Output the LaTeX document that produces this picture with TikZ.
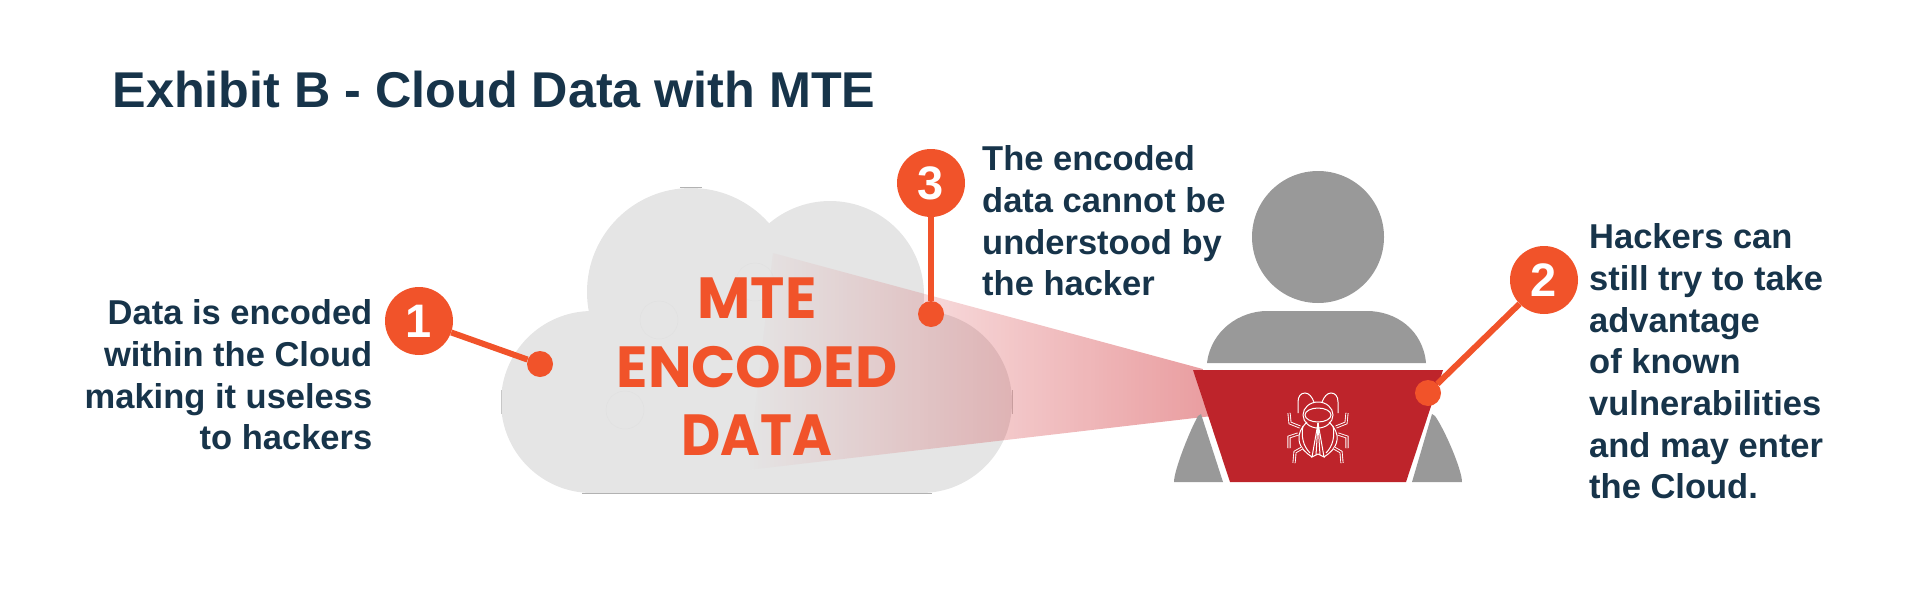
\documentclass[tikz,border=0pt]{standalone}
\usepackage{fontspec}
\setmainfont{Liberation Sans}
\newfontfamily\geofont{Poppins}
\usetikzlibrary{fadings}

\definecolor{inkblue}{HTML}{17344A}
\definecolor{pinorange}{HTML}{F1532A}
\definecolor{cloudgray}{HTML}{E5E5E5}
\definecolor{persongray}{HTML}{999999}
\definecolor{laptopred}{HTML}{BE242B}
\definecolor{beamred}{HTML}{CE2329}

\tikzfading[name=beamfade, left color=transparent!100, middle color=transparent!72, right color=transparent!55]

\tikzset{
    sidetext/.style={inner sep=0pt, text=inkblue, font=\fontsize{34.5}{41.7}\selectfont\bfseries},
    cloudtext/.style={inner sep=0pt, text=pinorange, font=\fontsize{58}{68}\selectfont\geofont\bfseries},
    badge/.style={circle, fill=pinorange, inner sep=0pt, minimum size=68pt, text=white, font=\fontsize{47}{47}\selectfont\bfseries},
    pin/.style={circle, fill=pinorange, inner sep=0pt, minimum size=26pt},
    leader/.style={pinorange, line width=6pt},
    bugline/.style={white, line width=1pt},
    bugleg/.style={white, line width=0.9pt, double=laptopred, double distance=1.3pt}
}

\begin{document}
\begin{tikzpicture}[x=1pt, y=-1pt]
    \useasboundingbox (0,0) rectangle (1920,600);
    % Title
    \node[inner sep=0pt, anchor=base west, text=inkblue, font=\fontsize{50.3}{50}\selectfont\bfseries] (title) at (112.5,107) {Exhibit B - Cloud Data with MTE};

    % Cloud
    \foreach \cx/\cy/\r in {592/402/91, 691/292/104, 830/295/94, 921/402/91}
    {
        \fill[cloudgray] (\cx,\cy) circle (\r pt);
    }
    \fill[cloudgray] (592,311) rectangle (921,493);
    % Faint rings inside the cloud
    \foreach \cx/\cy in {755/282, 659/320, 625/410}
    {
        \draw[black!12, line width=0.4pt] (\cx,\cy) circle (19pt);
    }
    % Edge marks of the cloud
    \draw[black!30, line width=0.8pt] (582,493.3) -- (932,493.3);
    \draw[black!30, line width=0.8pt] (680,187.6) -- (702,187.6);
    \draw[black!22, line width=0.6pt] (500.8,390) -- (500.8,414);
    \draw[black!22, line width=0.6pt] (1012.2,390) -- (1012.2,414);

    % Beam
    \fill[beamred, path fading=beamfade] (773,253) -- (1203,369) -- (1212,416) -- (748,470) -- cycle;

    % Person
    \fill[persongray] (1318,237) circle (66pt);
    \fill[persongray] (1207,363) .. controls (1211,330) and (1240,311) .. (1267,311) -- (1367,311) .. controls (1396,311) and (1423,330) .. (1426,363) -- cycle;
    \fill[persongray] (1198,416) -- (1201,414) -- (1223,482) -- (1174,482) .. controls (1174,470) and (1190,430) .. (1198,416) -- cycle;
    \fill[persongray] (1435,416) -- (1432,414) -- (1412,482) -- (1462,482) .. controls (1462,470) and (1445,430) .. (1435,416) -- cycle;
    % Laptop
    \fill[laptopred] (1193,370) -- (1443,370) -- (1406,482) -- (1230,482) -- cycle;

    % Bug on the laptop
    \begin{scope}[shift={(1318,420)}]
        \foreach \s in {1,-1}
        {
            \begin{scope}[xscale=\s]
                \draw[bugline] (-20,-7) -- (-20,-18) .. controls (-20,-24) and (-17,-27) .. (-13,-27) .. controls (-9,-27) and (-6,-23) .. (-4,-18);
                \draw[bugline] (-11,2) .. controls (-17,8) and (-20,14) .. (-19,20) .. controls (-18,28) and (-12,33) .. (-6,37);
                \draw[bugline] (-15,6) .. controls (-17,16) and (-15,26) .. (-8,33);
                \draw[bugline] (0,3) -- (-6,37) -- (0,34);
                \draw[bugline] (0,3) -- (-2,35);
                \draw[bugleg] (-18,7) -- (-28,3) -- (-29,-7);
                \draw[bugleg] (-20,14) -- (-29,17) -- (-29,28);
                \draw[bugleg] (-16,28) -- (-23,32) -- (-24,43);
            \end{scope}
        }
        \draw[bugline] (0,-5) ellipse (15pt and 13pt);
        \draw[bugline, fill=laptopred] (0,-5) ellipse (13pt and 7pt);
    \end{scope}

    % Cloud text
    \node[cloudtext, anchor=base] (mtetext) at (757,318) {MTE};
    \node[cloudtext, anchor=base] (encodedtext) at (757,387) {ENCODED};
    \node[cloudtext, anchor=base, xscale=0.93] (datatext) at (757,455) {DATA};

    % Callouts
    \node[badge] (badgeone) at (419,321) {1};
    \node[pin] (pinone) at (540,364) {};
    \draw[leader] (badgeone) -- (pinone);
    \node[badge] (badgetwo) at (1544,280) {2};
    \node[pin] (pintwo) at (1428,393) {};
    \draw[leader] (badgetwo) -- (pintwo);
    \node[badge] (badgethree) at (931,183) {3};
    \node[pin] (pinthree) at (931,314) {};
    \draw[leader] (badgethree) -- (pinthree);

    % Side texts
    \node[sidetext, anchor=north east, align=right] (textone) at (372.5,299.5) {Data is encoded\\within the Cloud\\making it useless\\to hackers};
    \node[sidetext, anchor=north west, align=left] (textthree) at (982,145.5) {The encoded\\data cannot be\\understood by\\the hacker};
    \node[sidetext, anchor=north west, align=left] (texttwo) at (1589,223.5) {Hackers can\\still try to take\\advantage\\of known\\vulnerabilities\\and may enter\\the Cloud.};
\end{tikzpicture}
\end{document}
